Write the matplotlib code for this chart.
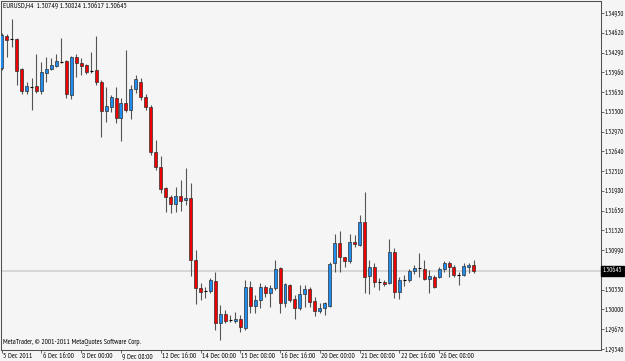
import matplotlib
matplotlib.use("Agg")
import matplotlib.pyplot as plt
import matplotlib.transforms as mtransforms
import numpy as np

TITLE_TEXT = "EURUSD,H4  1.30749 1.30824 1.30617 1.30645"
COPYRIGHT_TEXT = "MetaTrader, \u00a9 2001-2011 MetaQuotes Software Corp."

# EURUSD H4 candles
OPEN = [
    1.34038, 1.34567, 1.34509, 1.34517, 1.34011, 1.33654, 1.33720, 1.33732, 1.33654, 1.33954,
    1.34011, 1.34071, 1.34138, 1.34150, 1.33582, 1.34221, 1.34116, 1.34083, 1.33988, 1.33999,
    1.33807, 1.33320, 1.33381, 1.33537, 1.33206, 1.33453, 1.33331, 1.33674, 1.33804, 1.33543,
    1.33376, 1.32625, 1.32374, 1.32024, 1.31873, 1.31757, 1.31895, 1.31828, 1.31862, 1.30826,
    1.30354, 1.30314, 1.30314, 1.30476, 1.29769, 1.29925, 1.29824, 1.29813, 1.29836, 1.29686,
    1.30370, 1.30063, 1.30158, 1.30370, 1.30270, 1.30354, 1.30688, 1.30113, 1.30409, 1.30170,
    1.30020, 1.30259, 1.30342, 1.30147, 1.29975, 1.30020, 1.30058, 1.30771, 1.31115, 1.30871,
    1.30810, 1.31132, 1.31077, 1.31466, 1.30559, 1.30704, 1.30464, 1.30464, 1.30437, 1.30965,
    1.30297, 1.30492, 1.30492, 1.30643, 1.30688, 1.30671, 1.30504, 1.30547, 1.30547, 1.30671,
    1.30771, 1.30704, 1.30576, 1.30576, 1.30714, 1.30749,
]
HIGH = [
    1.34617, 1.34601, 1.34851, 1.34534, 1.34033, 1.33799, 1.33866, 1.34275, 1.34133, 1.34216,
    1.34205, 1.34267, 1.34529, 1.34166, 1.34238, 1.34275, 1.34200, 1.34099, 1.34300, 1.34575,
    1.33832, 1.33720, 1.33582, 1.33710, 1.33532, 1.34333, 1.33749, 1.33916, 1.33866, 1.33599,
    1.33415, 1.32830, 1.32563, 1.32045, 1.31912, 1.32050, 1.32162, 1.32358, 1.32107, 1.30993,
    1.30442, 1.30375, 1.30526, 1.30631, 1.30075, 1.29991, 1.29908, 1.29963, 1.29908, 1.30492,
    1.30481, 1.30242, 1.30442, 1.30409, 1.30409, 1.30826, 1.30714, 1.30437, 1.30417, 1.30242,
    1.30409, 1.30409, 1.30370, 1.30213, 1.30108, 1.30130, 1.30798, 1.31261, 1.31316, 1.30881,
    1.31256, 1.31244, 1.31578, 1.31957, 1.30826, 1.30776, 1.30526, 1.30492, 1.31177, 1.31022,
    1.30547, 1.30576, 1.30671, 1.30743, 1.30948, 1.30826, 1.30659, 1.30576, 1.30704, 1.30815,
    1.30810, 1.30743, 1.30631, 1.30771, 1.30781, 1.30824,
]
LOW = [
    1.33999, 1.34216, 1.34383, 1.33749, 1.33599, 1.33599, 1.33331, 1.33615, 1.33599, 1.33804,
    1.33999, 1.34054, 1.34116, 1.33532, 1.33515, 1.33887, 1.33924, 1.33932, 1.33949, 1.33749,
    1.32885, 1.33136, 1.33298, 1.33109, 1.32814, 1.33298, 1.33176, 1.33615, 1.33498, 1.33331,
    1.32580, 1.32329, 1.31940, 1.31628, 1.31611, 1.31633, 1.31645, 1.31745, 1.30559, 1.30092,
    1.30158, 1.30192, 1.30275, 1.29657, 1.29490, 1.29774, 1.29791, 1.29774, 1.29629, 1.29657,
    1.29946, 1.29941, 1.30025, 1.30213, 1.30041, 1.30325, 1.29946, 1.30046, 1.30130, 1.29836,
    1.29991, 1.30046, 1.30036, 1.29891, 1.29941, 1.29908, 1.30046, 1.30631, 1.30631, 1.30714,
    1.30771, 1.31048, 1.31060, 1.30270, 1.30259, 1.30380, 1.30325, 1.30392, 1.30426, 1.30187,
    1.30170, 1.30392, 1.30464, 1.30588, 1.30547, 1.30492, 1.30270, 1.30354, 1.30521, 1.30626,
    1.30547, 1.30547, 1.30409, 1.30559, 1.30609, 1.30617,
]
CLOSE = [
    1.34584, 1.34500, 1.34509, 1.33988, 1.33654, 1.33724, 1.33720, 1.33654, 1.33966, 1.34008,
    1.34078, 1.34150, 1.34138, 1.33594, 1.34211, 1.34111, 1.34074, 1.33971, 1.33988, 1.33804,
    1.33323, 1.33401, 1.33548, 1.33206, 1.33453, 1.33331, 1.33682, 1.33849, 1.33543, 1.33376,
    1.32635, 1.32374, 1.32012, 1.31873, 1.31757, 1.31895, 1.31812, 1.31867, 1.30826, 1.30354,
    1.30297, 1.30314, 1.30492, 1.29769, 1.29925, 1.29813, 1.29824, 1.29841, 1.29702, 1.30370,
    1.30063, 1.30158, 1.30370, 1.30270, 1.30354, 1.30676, 1.30113, 1.30426, 1.30158, 1.30020,
    1.30259, 1.30342, 1.30130, 1.29980, 1.30020, 1.30103, 1.30760, 1.31115, 1.30871, 1.30810,
    1.31132, 1.31089, 1.31466, 1.30547, 1.30704, 1.30464, 1.30464, 1.30426, 1.30965, 1.30297,
    1.30492, 1.30492, 1.30643, 1.30688, 1.30688, 1.30504, 1.30559, 1.30380, 1.30671, 1.30771,
    1.30704, 1.30576, 1.30576, 1.30726, 1.30743, 1.30645,
]

DATE_LABELS = [
    "5 Dec 2011", "6 Dec 16:00", "8 Dec 00:00", "9 Dec 08:00", "12 Dec 16:00", "14 Dec 00:00",
    "15 Dec 08:00", "16 Dec 16:00", "20 Dec 00:00", "21 Dec 08:00", "22 Dec 16:00", "26 Dec 08:00",
]
DATE_LABEL_BARS = [0, 8, 16, 24, 32, 40, 48, 56, 64, 72, 80, 88]
PRICE_TICKS = [
    1.29340, 1.29670, 1.30000, 1.30330, 1.30990, 1.31320, 1.31650, 1.31980, 1.32310,
    1.32640, 1.32970, 1.33300, 1.33630, 1.33960, 1.34290, 1.34620, 1.34950,
]
LAST_PRICE = 1.30645

BACKGROUND = "#f5f5f5"
BULL_COLOR = "#1e8cf0"
BEAR_COLOR = "#f00000"
WICK_COLOR = "#555555"
EDGE_COLOR = "#303030"
AXIS_COLOR = "#505050"
BODY_WIDTH = 0.6

# narrow fonts, close to the tiny terminal font of the original
plt.rcParams["font.family"] = ["PT Sans Narrow", "Roboto Condensed", "DejaVu Sans"]
FONT_SIZE = 5.3
PRICE_FONT_SIZE = 4.9

fig = plt.figure(figsize=(6.25, 3.61), dpi=100, facecolor=BACKGROUND)
ax = fig.add_axes([1.5 / 625, 11 / 361, 599.5 / 625, 349 / 361], facecolor=BACKGROUND)

bars = np.arange(len(OPEN))
o, h, l, c = (np.array(v) for v in (OPEN, HIGH, LOW, CLOSE))
up = c > o
down = c < o
flat = c == o

ax.axhline(LAST_PRICE, color="#d2d2d2", linewidth=1.2, zorder=1)
ax.vlines(bars, l, h, color=WICK_COLOR, linewidth=0.8, zorder=2)
ax.bar(bars[up], c[up] - o[up], bottom=o[up], width=BODY_WIDTH, color=BULL_COLOR,
       edgecolor=EDGE_COLOR, linewidth=0.5, zorder=3)
ax.bar(bars[down], o[down] - c[down], bottom=c[down], width=BODY_WIDTH, color=BEAR_COLOR,
       edgecolor=EDGE_COLOR, linewidth=0.5, zorder=3)
ax.hlines(o[flat], bars[flat] - BODY_WIDTH / 2, bars[flat] + BODY_WIDTH / 2,
          color="black", linewidth=0.8, zorder=3)

ax.set_xlim(-0.04, 120.58)
ax.set_ylim(1.29323, 1.35152)

for spine in ax.spines.values():
    spine.set_color(AXIS_COLOR)
    spine.set_linewidth(0.75)

ax.yaxis.tick_right()
ax.set_yticks(PRICE_TICKS, [f"{p:.5f}" for p in PRICE_TICKS])
ax.tick_params(axis="y", direction="out", length=2.0, width=0.6, pad=0.5,
               labelsize=PRICE_FONT_SIZE, color=AXIS_COLOR, labelcolor="black")

ax.set_xticks(DATE_LABEL_BARS, DATE_LABELS)
ax.tick_params(axis="x", direction="out", length=2.2, width=0.6, pad=0.3,
               labelsize=FONT_SIZE, color=AXIS_COLOR, labelcolor="black")
shift = mtransforms.ScaledTranslation(1.2 / 100, 0, fig.dpi_scale_trans)
for label in ax.get_xticklabels():
    label.set_horizontalalignment("left")
    label.set_transform(label.get_transform() + shift)

tag_transform = mtransforms.blended_transform_factory(ax.transAxes, ax.transData)
ax.text(1.003, LAST_PRICE, f"{LAST_PRICE:.5f}", transform=tag_transform, ha="left", va="center",
        color="white", fontsize=PRICE_FONT_SIZE,
        bbox=dict(boxstyle="square,pad=0.25", facecolor="black", edgecolor="black"))

fig.text(3 / 625, 1 - 6 / 361, TITLE_TEXT, ha="left", va="center", fontsize=FONT_SIZE, color="black")
fig.text(3 / 625, 1 - 342 / 361, COPYRIGHT_TEXT, ha="left", va="center", fontsize=FONT_SIZE,
         color="black")

fig.savefig("out.png", dpi=100, facecolor=BACKGROUND)
